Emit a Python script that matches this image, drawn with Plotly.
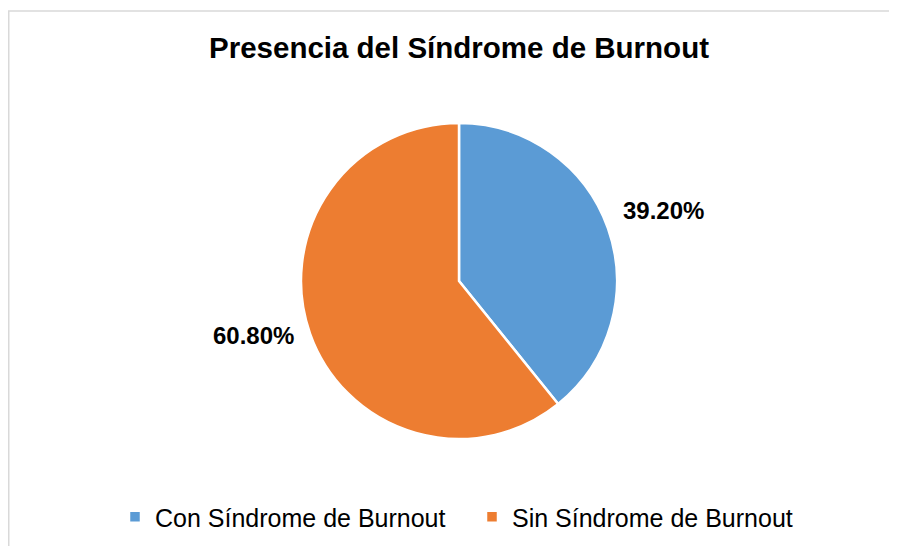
import plotly.graph_objects as go

categories = ["Con Síndrome de Burnout", "Sin Síndrome de Burnout"]
values = [39.20, 60.80]
colors = ["#5B9BD5", "#ED7D31"]
title_text = "Presencia del Síndrome de Burnout"

W, H = 897, 546
OFF = 8  # page body margin
FONT = "Liberation Sans, Arial, sans-serif"


def px(x):
    return (x - OFF) / W


def py(y):
    return 1 - (y - OFF) / H


cx, cy, r = 459, 281, 158

fig = go.Figure()
fig.add_trace(go.Pie(
    labels=categories,
    values=values,
    sort=False,
    direction="clockwise",
    rotation=0,
    marker=dict(colors=colors, line=dict(color="white", width=2.5)),
    textinfo="none",
    hoverinfo="label+percent",
    domain=dict(x=[px(cx - r), px(cx + r)], y=[py(cy + r), py(cy - r)]),
    showlegend=True,
))

total = sum(values)
label_pos = [(663, 210), (253, 335)]
for v, (lx, ly) in zip(values, label_pos):
    fig.add_annotation(
        x=px(lx), y=py(ly), xref="paper", yref="paper",
        text=f"<b>{v / total * 100:.2f}%</b>", showarrow=False,
        xanchor="center", yanchor="middle",
        font=dict(family=FONT, size=24, color="#000000"),
    )

fig.add_shape(type="rect", xref="paper", yref="paper",
              x0=px(8.75), x1=1.05, y0=-0.05, y1=py(11),
              line=dict(color="#D9D9D9", width=1.5), fillcolor="rgba(0,0,0,0)",
              layer="below")

fig.update_layout(
    width=W, height=H,
    margin=dict(l=0, r=0, t=0, b=0),
    paper_bgcolor="white",
    plot_bgcolor="white",
    title=dict(text=f"<b>{title_text}</b>", x=px(459), xanchor="center",
               y=py(48), yanchor="middle", yref="paper",
               font=dict(family=FONT, size=29.5, color="#000000")),
    legend=dict(orientation="h", x=px(115), xanchor="left",
                y=py(517), yanchor="middle",
                font=dict(family=FONT, size=25, color="#000000"),
                itemwidth=30, entrywidth=312, entrywidthmode="pixels",
                bgcolor="rgba(0,0,0,0)"),
)

fig.write_html("out.html")
